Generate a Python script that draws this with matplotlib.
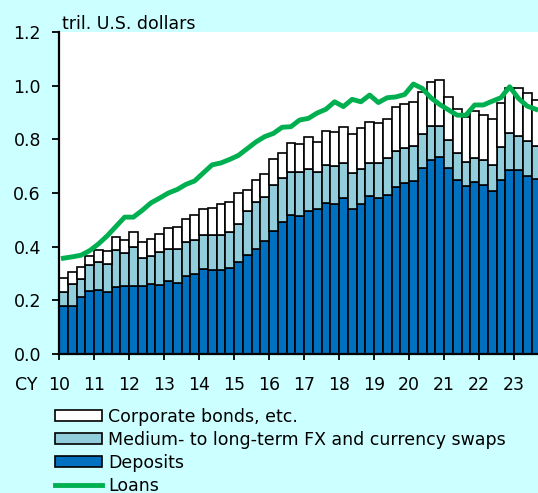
import matplotlib
matplotlib.use("Agg")
import matplotlib.pyplot as plt
from matplotlib.patches import Patch
from matplotlib.lines import Line2D

plt.rcParams["font.family"] = ["DejaVu Sans"]
plt.rcParams["font.size"] = 12.5

# quarterly, CY2010 Q1 onward (tril. U.S. dollars)
years = ["10", "11", "12", "13", "14", "15", "16", "17", "18", "19", "20", "21", "22", "23"]

deposits = [0.180, 0.180, 0.212, 0.234, 0.237, 0.230, 0.250, 0.255, 0.255, 0.252,
            0.261, 0.256, 0.271, 0.265, 0.289, 0.299, 0.317, 0.314, 0.314, 0.322,
            0.344, 0.370, 0.392, 0.420, 0.459, 0.492, 0.519, 0.514, 0.534, 0.539,
            0.561, 0.559, 0.580, 0.539, 0.559, 0.587, 0.582, 0.591, 0.622, 0.637,
            0.646, 0.692, 0.722, 0.735, 0.693, 0.647, 0.625, 0.640, 0.630, 0.606,
            0.647, 0.684, 0.684, 0.663, 0.651]

# cumulative tops
swaps_top = [0.230, 0.262, 0.280, 0.333, 0.342, 0.337, 0.386, 0.376, 0.397, 0.357,
             0.366, 0.379, 0.391, 0.391, 0.419, 0.424, 0.443, 0.443, 0.443, 0.454,
             0.485, 0.534, 0.568, 0.586, 0.629, 0.657, 0.680, 0.678, 0.688, 0.680,
             0.704, 0.700, 0.713, 0.676, 0.688, 0.711, 0.713, 0.729, 0.757, 0.766,
             0.777, 0.820, 0.850, 0.851, 0.796, 0.748, 0.717, 0.731, 0.723, 0.705,
             0.772, 0.823, 0.813, 0.792, 0.774]

bonds_top = [0.282, 0.307, 0.325, 0.365, 0.386, 0.385, 0.436, 0.426, 0.453, 0.416,
             0.429, 0.447, 0.470, 0.472, 0.503, 0.518, 0.540, 0.545, 0.558, 0.566,
             0.600, 0.610, 0.647, 0.671, 0.728, 0.750, 0.788, 0.782, 0.810, 0.790,
             0.832, 0.826, 0.847, 0.819, 0.841, 0.863, 0.862, 0.875, 0.919, 0.930,
             0.939, 0.978, 1.012, 1.020, 0.959, 0.913, 0.882, 0.904, 0.891, 0.876,
             0.935, 0.990, 0.991, 0.971, 0.945]

loans = [0.357, 0.362, 0.368, 0.385, 0.410, 0.440, 0.475, 0.510, 0.510, 0.535,
         0.563, 0.581, 0.600, 0.613, 0.632, 0.645, 0.675, 0.705, 0.712, 0.725,
         0.740, 0.765, 0.790, 0.810, 0.822, 0.845, 0.847, 0.872, 0.878, 0.898,
         0.912, 0.940, 0.922, 0.949, 0.940, 0.965, 0.937, 0.955, 0.958, 0.967,
         1.006, 0.990, 0.955, 0.930, 0.910, 0.890, 0.890, 0.928, 0.928, 0.942,
         0.955, 0.996, 0.953, 0.924, 0.912]

swaps = [s - d for s, d in zip(swaps_top, deposits)]
bonds = [b - s for b, s in zip(bonds_top, swaps_top)]

c_dep = "#0070C0"
c_swap = "#92CDDC"
c_bond = "#FFFFFF"
c_loan = "#00B050"
bg = "#CCFFFF"

fig = plt.figure(figsize=(5.38, 4.93), dpi=100, facecolor=bg)
ax = fig.add_axes([59 / 538, 139 / 493, 479 / 538, 322 / 493], facecolor="white")

x = list(range(len(deposits)))
kw = dict(width=1.0, edgecolor="black", linewidth=1.2)
ax.bar(x, deposits, color=c_dep, **kw)
ax.bar(x, swaps, bottom=deposits, color=c_swap, **kw)
ax.bar(x, bonds, bottom=swaps_top, color=c_bond, **kw)
ax.plot(x, loans, color=c_loan, linewidth=3.5, zorder=5, solid_joinstyle="round")

ax.set_ylim(0, 1.2)
ax.set_yticks([0.0, 0.2, 0.4, 0.6, 0.8, 1.0, 1.2])
ax.set_yticklabels([f"{v:.1f}" for v in ax.get_yticks()])
ax.set_xlim(-0.5, -0.5 + 479 / 8.75)
ax.set_xticks([-0.5 + 4 * k for k in range(len(years))])
ax.set_xticklabels(years)

for s in ["top", "right"]:
    ax.spines[s].set_visible(False)
for s in ["left", "bottom"]:
    ax.spines[s].set_linewidth(1.6)
    ax.spines[s].set_zorder(6)
ax.tick_params(axis="y", direction="out", length=5, width=1.3, pad=8)
ax.tick_params(axis="x", direction="out", length=4, width=1.3, pad=12)

fig.text(62 / 538, (493 - 29) / 493, "tril. U.S. dollars", va="baseline")
fig.text(26 / 538, (493 - 390) / 493, "CY", ha="center", va="baseline")

handles = [
    Patch(facecolor=c_bond, edgecolor="black", linewidth=1.2),
    Patch(facecolor=c_swap, edgecolor="black", linewidth=1.2),
    Patch(facecolor=c_dep, edgecolor="black", linewidth=1.2),
    Line2D([], [], color=c_loan, linewidth=3.5),
]
labels = ["Corporate bonds, etc.", "Medium- to long-term FX and currency swaps",
          "Deposits", "Loans"]
fig.legend(handles, labels, loc="upper left", bbox_to_anchor=(55 / 538, (493 - 408) / 493),
           frameon=False, handlelength=2.7, handleheight=0.6,
           handletextpad=0.35, labelspacing=0.28, borderpad=0, borderaxespad=0)

fig.savefig("out.png", dpi=100, facecolor=bg)
